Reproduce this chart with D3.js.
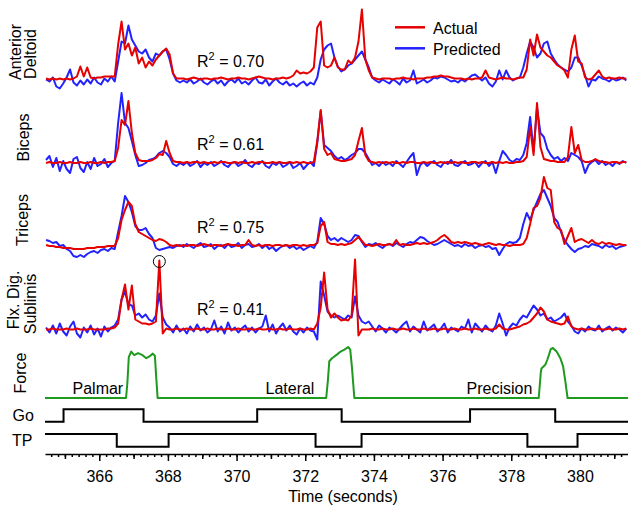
<!DOCTYPE html>
<html>
<head>
<meta charset="UTF-8" />
<title>EMG prediction</title>
<script src="https://d3js.org/d3.v7.min.js"></script>
<style>
    body { margin: 0; background: #fff; }
    svg text { font-family: 'Liberation Sans', Arial, Helvetica, sans-serif; fill: #000; }
</style>
</head>
<body>
<div id="chart"></div>
<script>
    // EMG samples every 0.1 s starting at 364.45 s (normalized amplitude, a.u.)
    var t0 = 364.45, dt = 0.1;

    var adActual = [
        1,0,1,0,1,0,1,0,1,3,
        13,3,12,2,1,2,2,3,3,3,
        3,35,58,30,36,24,32,16,22,12,
        18,14,20,24,28,31,25,6,1,1,
        1,0,1,2,1,0,1,1,0,1,
        1,2,1,0,1,1,2,1,1,0,
        1,2,3,2,1,1,0,1,1,2,
        1,2,4,9,6,7,6,8,12,52,
        58,14,12,14,22,12,10,10,19,16,
        22,38,70,20,9,2,1,0,1,1,
        1,0,1,1,2,1,1,0,1,1,
        1,2,2,3,3,4,3,3,2,1,
        1,1,0,1,0,1,1,2,9,2,
        1,0,1,2,1,1,0,1,2,2,
        10,40,24,45,32,28,24,22,18,14,
        12,9,2,30,44,18,16,2,0,1,
        5,9,3,1,2,1,1,2,1,1
    ];
    var adPredicted = [
        0,-2,2,-7,-9,-4,2,10,-3,-6,
        -1,-5,0,-4,2,-3,-5,1,-2,3,
        -2,18,38,36,54,40,34,28,26,30,
        22,18,26,24,28,30,20,6,-1,-3,
        -1,-3,0,-4,-2,1,-3,-5,-2,0,
        -4,-1,-6,-2,0,-3,1,-4,-2,-5,
        -1,2,-3,-4,0,-6,-2,1,-3,-5,
        -2,-6,-4,-7,-4,-2,-6,-3,-5,2,
        20,30,34,36,22,13,8,10,14,16,
        20,24,28,20,12,2,-1,-3,0,-2,
        -4,0,-2,-5,1,-3,-1,9,-4,-2,
        0,-3,-1,2,1,3,2,0,-2,-1,
        -3,0,-2,1,4,5,2,-1,2,-4,
        -7,-2,9,0,9,2,-1,1,2,12,
        26,38,32,22,26,36,38,26,20,15,
        12,10,8,12,22,22,14,4,-7,0,
        -1,3,1,0,-2,1,-1,0,2,-1
    ];

    var bicActual = [
        0,1,0,0,1,0,0,1,0,0,
        1,0,0,1,0,0,1,0,1,1,
        2,15,43,38,62,30,10,3,2,2,
        2,3,5,9,8,22,10,2,1,1,
        0,1,0,1,1,0,1,0,0,1,
        0,1,1,0,0,1,0,1,0,0,
        1,0,1,1,0,0,1,0,1,0,
        0,1,0,1,0,1,0,0,1,22,
        53,14,8,10,4,3,2,2,3,4,
        8,22,35,8,2,1,0,1,0,1,
        0,1,0,0,1,0,1,1,0,0,
        1,0,1,0,0,1,0,1,0,1,
        0,1,0,0,1,1,0,1,0,0,
        1,0,1,0,1,0,0,1,1,2,
        6,36,8,60,16,4,3,2,2,1,
        1,1,6,36,10,18,3,1,1,2,
        4,2,1,1,0,1,1,0,1,1
    ];
    var bicPredicted = [
        3,7,-4,5,-8,2,-6,-10,4,6,
        -5,-9,1,-6,5,-3,-1,4,-4,0,
        2,40,70,40,35,22,8,-3,-2,0,
        3,4,6,10,12,10,6,-1,-3,0,
        -2,1,-3,-1,2,-4,0,-2,1,-3,
        -1,2,-2,-4,0,1,-3,-1,3,-2,
        -4,0,-1,2,-3,-5,0,-2,1,-4,
        -2,1,-5,-3,0,-6,-2,1,-3,20,
        52,18,15,12,7,4,6,3,5,8,
        10,14,14,10,4,-2,0,-3,1,-2,
        0,-3,2,-1,-4,1,6,10,-12,-2,
        1,-3,0,2,-2,-4,1,-1,3,-2,
        -3,0,2,-2,-1,1,-4,0,2,-3,
        1,-10,2,12,8,3,1,4,3,8,
        20,46,12,55,30,26,14,8,4,6,
        2,5,2,10,8,6,2,-10,-2,1,
        3,-1,2,-2,0,-3,1,-1,2,0
    ];

    var triActual = [
        1,0,0,-1,-1,-2,-2,-2,-3,-3,
        -3,-3,-2,-2,-2,-1,-1,-1,0,0,
        0,8,26,36,44,40,22,14,12,10,
        8,6,5,7,6,4,1,0,1,0,
        1,0,1,1,0,1,2,1,0,1,
        1,0,1,2,1,1,0,1,1,6,
        1,0,1,0,1,1,0,1,1,0,
        1,0,1,1,0,1,0,1,1,3,
        20,24,4,2,2,1,2,1,2,3,
        6,9,5,1,1,0,1,2,1,1,
        2,1,6,1,2,1,1,2,3,2,
        3,2,3,4,6,9,11,8,4,3,
        4,3,4,3,2,3,2,1,2,3,
        2,1,2,1,1,0,1,1,1,2,
        8,22,38,40,48,69,58,56,24,18,
        16,2,10,18,4,6,7,5,3,6,
        3,2,4,2,3,2,1,2,1,1
    ];
    var triPredicted = [
        6,5,3,4,0,1,-3,-5,-10,-11,
        -9,-11,-8,-6,-5,-7,-4,-3,-5,-2,
        -3,14,30,50,44,34,20,16,16,18,
        12,8,-2,-4,-3,-2,-1,-2,0,1,
        -1,2,0,-2,1,3,-1,0,2,-3,
        0,1,-2,2,-1,0,3,-2,1,2,
        -1,0,2,-2,1,-3,-1,-5,-2,0,
        1,-2,0,-3,-1,-4,-2,0,-2,4,
        28,22,10,6,8,5,8,6,4,6,
        11,10,4,-1,2,1,3,0,-2,1,
        2,0,3,1,-1,2,4,3,6,9,
        8,5,3,1,2,4,6,4,2,0,
        1,-1,2,0,1,-2,0,1,-1,0,
        -3,-2,-9,-3,2,4,3,4,8,22,
        33,26,36,44,52,56,48,40,28,24,
        14,6,1,-3,-6,-3,-2,0,-1,2,
        1,0,-2,1,-1,0,-3,-1,0,1
    ];

    var fdsActual = [
        0,0,1,0,0,0,1,0,0,1,
        0,0,0,1,0,0,0,0,1,1,
        2,6,30,45,20,44,10,8,6,6,
        5,6,8,69,-4,1,0,0,1,0,
        0,1,0,0,1,0,0,1,0,0,
        1,0,0,1,0,0,1,0,0,1,
        0,0,1,0,0,1,0,0,1,0,
        0,1,0,0,1,0,0,1,0,6,
        22,57,20,12,16,12,9,10,9,14,
        70,-6,0,0,0,1,0,0,1,0,
        0,1,0,0,1,0,0,1,0,0,
        1,0,0,1,0,0,1,0,0,1,
        0,0,1,0,0,1,0,0,1,0,
        0,1,5,1,0,0,1,2,3,5,
        6,8,12,16,22,18,10,8,7,6,
        5,6,13,3,1,0,1,0,0,1,
        0,1,0,0,1,0,0,1,0,1
    ];
    var fdsPredicted = [
        2,-3,4,-4,6,-2,-6,3,8,-4,
        -8,2,-3,4,-5,1,-7,3,-2,2,
        4,10,30,38,25,24,14,16,12,15,
        10,8,14,36,12,5,2,-3,4,-2,
        1,-4,3,-2,5,-1,2,-3,0,9,
        -2,3,-4,7,-1,2,-3,1,4,-2,
        2,-3,1,3,14,-2,5,-4,2,6,
        -1,4,-2,-5,1,-3,2,-1,-2,-10,
        48,34,18,14,12,14,12,10,14,12,
        33,14,8,6,8,3,-2,4,1,-3,
        2,0,-3,1,5,8,-2,3,0,-3,
        8,-1,2,5,-2,1,6,-3,2,0,
        -2,3,1,10,-3,6,2,-2,4,0,
        -2,4,16,6,-6,2,6,4,10,14,
        12,18,24,20,14,16,10,12,8,10,
        12,16,8,4,-2,-4,1,-2,3,0,
        -1,4,-2,1,3,-1,2,0,-3,1
    ];

    // grip force (% of max)
    var forceTimes = [364.42, 366.78, 366.82, 366.86, 366.93, 367.02, 367.13, 367.26, 367.37, 367.45, 367.56, 367.62, 367.66, 367.70,
        372.61, 372.66, 372.70, 372.78, 372.92, 373.03, 373.14, 373.25, 373.31, 373.36, 373.43,
        378.80, 378.86, 378.88, 378.99, 379.05, 379.10, 379.15, 379.21, 379.32, 379.43, 379.51, 379.57, 379.64, 381.40];
    var forceValues = [0, 0, 30, 80, 91, 84, 88, 84, 78, 81, 87, 83, 40, 0,
        0, 35, 72, 78, 85, 91, 95, 100, 95, 60, 0,
        0, 50, 58, 65, 75, 85, 96, 98, 91, 78, 62, 35, 0, 0];

    // Go cue and TP signals: change times and levels
    var goTimes = [364.42, 364.96, 367.29, 370.60, 373.06, 376.80, 379.28, 381.40];
    var goLevels = [0, 1, 0, 1, 0, 1, 0, 0];
    var tpTimes = [364.42, 366.51, 368.02, 372.30, 373.64, 378.47, 379.93, 381.40];
    var tpLevels = [1, 0, 1, 0, 1, 0, 1, 1];

    var graspNames = ["Palmar", "Lateral", "Precision"];
    var r2Values = ["0.70", "0.61", "0.75", "0.41"];
    var majorTicks = [366, 368, 370, 372, 374, 376, 378, 380];

    var w = 628, h = 508;
    var red = "#e60000", blue = "#2222ff", green = "#1e9a1e";

    var svg = d3.select("#chart")
        .append("svg")
        .attr("width", w)
        .attr("height", h);

    var x = d3.scaleLinear().domain([364.42, 381.40]).range([45, 628]);

    var panels = [
        {label: ["Anterior", "Deltoid"], lx: [20.5, 36], ly: [52, 54], actual: adActual, predicted: adPredicted, base: 79.5, r2y: 66.7},
        {label: ["Biceps"], lx: [29], ly: [137.5], actual: bicActual, predicted: bicPredicted, base: 163, r2y: 150},
        {label: ["Triceps"], lx: [27.5], ly: [220], actual: triActual, predicted: triPredicted, base: 246, r2y: 233.3},
        {label: ["Flx. Dig.", "Sublimis"], lx: [19, 36], ly: [300, 304], actual: fdsActual, predicted: fdsPredicted, base: 329.5, r2y: 315}
    ];

    panels.forEach(function(p, pi) {
        var y = d3.scaleLinear().domain([0, 70]).range([p.base, p.base - 70]);
        var line = d3.line()
            .x(function(d, i) { return x(t0 + i * dt); })
            .y(function(d) { return y(d); });

        svg.append("path")
            .datum(p.predicted)
            .attr("d", line)
            .attr("fill", "none")
            .attr("stroke", blue)
            .attr("stroke-width", 2)
            .attr("stroke-linejoin", "round");

        svg.append("path")
            .datum(p.actual)
            .attr("d", line)
            .attr("fill", "none")
            .attr("stroke", red)
            .attr("stroke-width", 2)
            .attr("stroke-linejoin", "round");

        p.label.forEach(function(s, j) {
            svg.append("text")
                .attr("transform", "translate(" + p.lx[j] + "," + p.ly[j] + ") rotate(-90)")
                .attr("text-anchor", "middle")
                .style("font-size", "16px")
                .text(s);
        });

        var r2 = svg.append("text")
            .attr("x", 197)
            .attr("y", p.r2y)
            .style("font-size", "16px");
        r2.append("tspan").text("R");
        r2.append("tspan").attr("dy", -7).style("font-size", "11px").text("2");
        r2.append("tspan").attr("dy", 7).text(" = " + r2Values[pi]);

        // circle round the largest actual value of the last muscle
        if (pi === 3) {
            var im = d3.maxIndex(p.actual.slice(0, 60));
            svg.append("circle")
                .attr("cx", x(t0 + im * dt))
                .attr("cy", y(p.actual[im]) + 1)
                .attr("r", 6)
                .attr("fill", "none")
                .attr("stroke", "#000")
                .attr("stroke-width", 1);
        }
    });

    // legend
    var legend = [{name: "Actual", color: red, y: 27.3, ty: 34}, {name: "Predicted", color: blue, y: 48.3, ty: 54.5}];
    legend.forEach(function(l) {
        svg.append("line")
            .attr("x1", 395).attr("x2", 425)
            .attr("y1", l.y).attr("y2", l.y)
            .attr("stroke", l.color)
            .attr("stroke-width", 2.5);
        svg.append("text")
            .attr("x", 433)
            .attr("y", l.ty)
            .style("font-size", "16px")
            .text(l.name);
    });

    // force
    var yForce = d3.scaleLinear().domain([0, 100]).range([398, 347]);
    svg.append("path")
        .datum(forceTimes.map(function(t, i) { return [t, forceValues[i]]; }))
        .attr("d", d3.line().x(function(d) { return x(d[0]); }).y(function(d) { return yForce(d[1]); }))
        .attr("fill", "none")
        .attr("stroke", green)
        .attr("stroke-width", 2)
        .attr("stroke-linejoin", "round");

    svg.append("text")
        .attr("transform", "translate(26,373) rotate(-90)")
        .attr("text-anchor", "middle")
        .style("font-size", "16px")
        .text("Force");

    var graspX = [72.5, 265.5, 466.5];
    graspNames.forEach(function(g, i) {
        svg.append("text")
            .attr("x", graspX[i])
            .attr("y", 394)
            .style("font-size", "16px")
            .text(g);
    });

    // Go and TP
    var yGo = d3.scaleLinear().domain([0, 1]).range([421.7, 409.3]);
    var yTp = d3.scaleLinear().domain([0, 1]).range([446.7, 434]);
    var stepLine = function(times, levels, ys) {
        return d3.line()
            .curve(d3.curveStepAfter)
            .x(function(d) { return x(d[0]); })
            .y(function(d) { return ys(d[1]); })(times.map(function(t, i) { return [t, levels[i]]; }));
    };
    svg.append("path")
        .attr("d", stepLine(goTimes, goLevels, yGo))
        .attr("fill", "none").attr("stroke", "#000").attr("stroke-width", 2);
    svg.append("path")
        .attr("d", stepLine(tpTimes, tpLevels, yTp))
        .attr("fill", "none").attr("stroke", "#000").attr("stroke-width", 2);

    svg.append("text").attr("x", 12.5).attr("y", 421).style("font-size", "16px").text("Go");
    svg.append("text").attr("x", 12).attr("y", 446).style("font-size", "16px").text("TP");

    // time axis with minor, medium and major ticks
    var axisY = 454;
    var minorTicks = d3.range(1823, 1907).map(function(i) { return i / 5; });
    var mediumTicks = d3.range(365, 382, 2);

    svg.append("g")
        .attr("transform", "translate(0," + axisY + ")")
        .call(d3.axisBottom(x).tickValues(minorTicks).tickSize(3).tickSizeOuter(0).tickFormat(""))
        .call(function(g) { g.select(".domain").remove(); });
    svg.append("g")
        .attr("transform", "translate(0," + axisY + ")")
        .call(d3.axisBottom(x).tickValues(mediumTicks).tickSize(5).tickSizeOuter(0).tickFormat(""))
        .call(function(g) { g.select(".domain").remove(); });
    var xAxis = svg.append("g")
        .attr("transform", "translate(0," + axisY + ")")
        .call(d3.axisBottom(x).tickValues(majorTicks).tickSize(7).tickSizeOuter(0).tickPadding(10).tickFormat(d3.format("d")));
    xAxis.selectAll("text").style("font-size", "16px");
    svg.selectAll(".tick line").attr("stroke-width", 1.5);
    xAxis.select(".domain").attr("stroke-width", 1.5);

    svg.append("text")
        .attr("x", x(373.1))
        .attr("y", 502)
        .attr("text-anchor", "middle")
        .style("font-size", "16px")
        .text("Time (seconds)");
</script>
</body>
</html>
